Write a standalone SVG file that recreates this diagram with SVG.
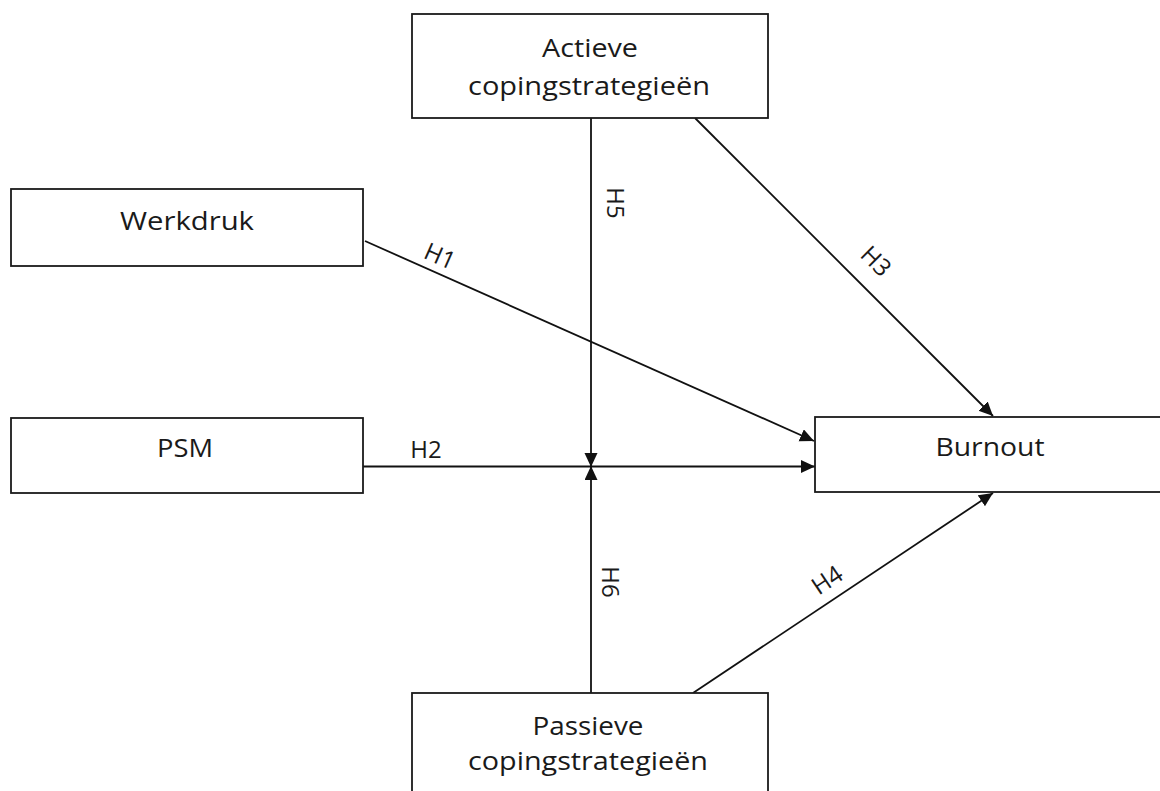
<svg xmlns="http://www.w3.org/2000/svg" width="1160" height="791" viewBox="0 0 1160 791">
<style>
.box{fill:#fff;stroke:#1a1a1a;stroke-width:1.8}
.t{font-family:"Open Sans","Liberation Sans",sans-serif;font-size:25px;fill:#1a1a1a;text-anchor:middle}
.h{font-family:"Open Sans","Liberation Sans",sans-serif;font-size:24px;fill:#1a1a1a;text-anchor:middle}
.c{stroke:#111;stroke-width:1.8;fill:none;marker-end:url(#ah)}
</style>
<defs>
<marker id="ah" markerUnits="userSpaceOnUse" markerWidth="15" markerHeight="14" refX="14" refY="6.5" orient="auto">
<path d="M0,0 L14,6.5 L0,13 z" fill="#111"/>
</marker>
</defs>
<rect width="1160" height="791" fill="#fff"/>
<g id="connectors">
<line class="c" x1="365" y1="241" x2="814" y2="441"/>
<line class="c" x1="363" y1="466.5" x2="815" y2="466.5"/>
<line class="c" x1="695" y1="118" x2="993" y2="416"/>
<line class="c" x1="693" y1="693" x2="993" y2="493"/>
<line class="c" x1="591" y1="118" x2="591" y2="467"/>
<line class="c" x1="591" y1="693" x2="591" y2="466"/>
</g>
<g id="labels">
<text class="h" transform="translate(440,256) rotate(24)" y="8.5">H1</text>
<text class="h" x="426" y="458">H2</text>
<text class="h" transform="translate(876,261) rotate(45)" y="8.5">H3</text>
<text class="h" transform="translate(827,580) rotate(-34)" y="8.5">H4</text>
<text class="h" transform="translate(615,203) rotate(90)" y="8.5">H5</text>
<text class="h" transform="translate(610,582) rotate(90)" y="8.5">H6</text>
</g>
<g id="actieve">
<rect class="box" x="412" y="14" width="356" height="104"/>
<text class="t" x="590" y="57" textLength="96" lengthAdjust="spacingAndGlyphs">Actieve</text>
<text class="t" x="589" y="95" textLength="242" lengthAdjust="spacingAndGlyphs">copingstrategieën</text>
</g>
<g id="werkdruk">
<rect class="box" x="11" y="189" width="352" height="77"/>
<text class="t" x="187" y="230" textLength="134" lengthAdjust="spacingAndGlyphs">Werkdruk</text>
</g>
<g id="psm">
<rect class="box" x="11" y="418" width="352" height="75"/>
<text class="t" x="185" y="457" textLength="56" lengthAdjust="spacingAndGlyphs">PSM</text>
</g>
<g id="burnout">
<rect class="box" x="815" y="417" width="360" height="75"/>
<text class="t" x="990" y="456" textLength="109" lengthAdjust="spacingAndGlyphs">Burnout</text>
</g>
<g id="passieve">
<rect class="box" x="412" y="693" width="356" height="110"/>
<text class="t" x="588" y="735" textLength="111" lengthAdjust="spacingAndGlyphs">Passieve</text>
<text class="t" x="588" y="770" textLength="240" lengthAdjust="spacingAndGlyphs">copingstrategieën</text>
</g>
</svg>
